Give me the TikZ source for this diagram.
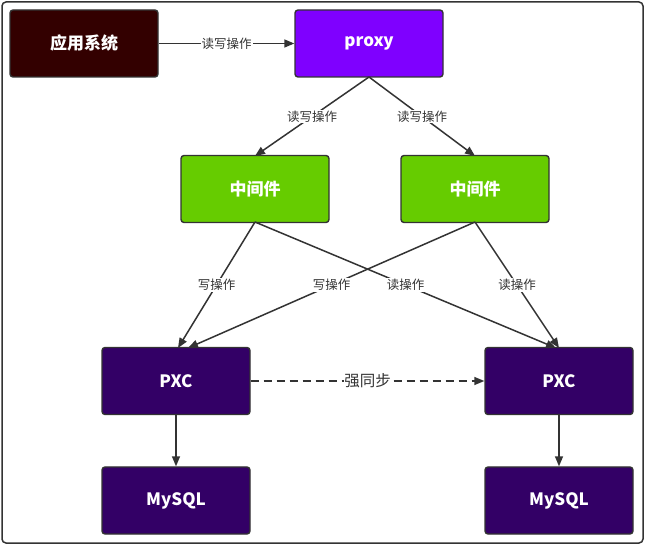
\documentclass[tikz,border=0pt]{standalone}
\usepackage{fontspec}
\setmainfont{Noto Sans CJK SC}
\usetikzlibrary{arrows.meta}
\definecolor{edge}{HTML}{333333}
\definecolor{appc}{HTML}{330000}
\definecolor{proxyc}{HTML}{7F00FF}
\definecolor{midc}{HTML}{66CC00}
\definecolor{dbc}{HTML}{330066}
\tikzset{
  box/.style={draw=edge, line width=1.4pt, rounded corners=3pt, minimum width=148pt, minimum height=67pt, inner sep=0pt, text=white, font=\fontsize{17}{19}\selectfont\bfseries},
  conn/.style={draw=edge, line width=1.5pt, -{Triangle[length=10pt,width=8pt]}},
  lbl/.style={fill=white, text=edge, inner sep=1pt, font=\fontsize{12.5}{14}\selectfont},
}
\begin{document}
\begin{tikzpicture}[x=1pt,y=-1pt]
\useasboundingbox (0,0) rectangle (646,545);
\draw[edge, line width=1.5pt, rounded corners=4pt] (2,2) rectangle (643,543);
\node[box, fill=appc] (app) at (84,43.5) {\raisebox{-1.5pt}{应用系统}};
\node[box, fill=proxyc] (proxy) at (369,43.5) {\raisebox{-1.5pt}{proxy}};
\node[box, fill=midc] (m1) at (255,189) {\raisebox{-1.5pt}{中间件}};
\node[box, fill=midc] (m2) at (475,189) {\raisebox{-1.5pt}{中间件}};
\node[box, fill=dbc] (p1) at (176,381) {\raisebox{-1.5pt}{PXC}};
\node[box, fill=dbc] (p2) at (559,381) {\raisebox{-1.5pt}{PXC}};
\node[box, fill=dbc] (s1) at (176,500.5) {\raisebox{-1.5pt}{MySQL}};
\node[box, fill=dbc] (s2) at (559,500.5) {\raisebox{-1.5pt}{MySQL}};
\coordinate (pb) at (369,77);
\coordinate (m1t) at (255,156);
\coordinate (m2t) at (475,156);
\coordinate (m1b) at (255,222);
\coordinate (m2b) at (475,222);
\coordinate (p1a) at (178,348);
\coordinate (p1b) at (188,348);
\coordinate (p2a) at (556,348);
\coordinate (p2b) at (559,348);
\draw[conn] (app) -- node[lbl] {读写操作} (proxy);
\draw[conn] (pb) -- node[lbl] {读写操作} (m1t);
\draw[conn] (pb) -- node[lbl] {读写操作} (m2t);
\draw[conn] (m1b) -- node[lbl] {写操作} (p1a);
\draw[conn] (m1b) -- node[lbl] {读操作} (p2a);
\draw[conn] (m2b) -- node[lbl] {写操作} (p1b);
\draw[conn] (m2b) -- node[lbl] {读操作} (p2b);
\draw[conn, dashed, dash pattern=on 8pt off 5pt] (p1) -- node[lbl, inner sep=0pt, font=\fontsize{15.5}{17}\selectfont] {强同步} (p2);
\draw[conn] (p1) -- (s1);
\draw[conn] (p2) -- (s2);
\end{tikzpicture}
\end{document}
